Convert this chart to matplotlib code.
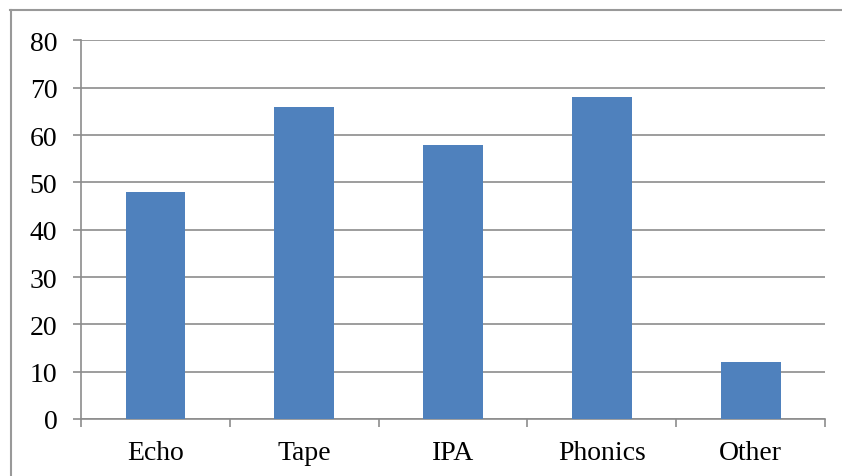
import matplotlib.pyplot as plt
import numpy as np
from matplotlib.lines import Line2D

categories = ['Echo', 'Tape', 'IPA', 'Phonics', 'Other']
values = [48, 66, 58, 68, 12]
yticks = [0, 10, 20, 30, 40, 50, 60, 70, 80]

plt.rcParams['font.family'] = ['Liberation Serif', 'DejaVu Serif']
grid_col = '#8c8c8c'

fig = plt.figure(figsize=(8.42, 4.77), dpi=100)
ax = fig.add_axes([0.0962, 0.1195, 0.8838, 0.7935])

x = np.arange(len(categories))
ax.bar(x, values, width=0.4, color='#4F81BD', zorder=3)

ax.set_xlim(-0.5, len(categories) - 0.5)
ax.set_ylim(0, 80)
ax.set_yticks(yticks)
ax.yaxis.grid(True, color=grid_col, linewidth=1.2, zorder=0)

# category labels between boundary ticks
ax.set_xticks(np.arange(-0.5, len(categories), 1.0))
ax.set_xticklabels([])
ax.set_xticks(x, minor=True)
ax.set_xticklabels(categories, minor=True)
ax.tick_params(axis='x', which='major', length=6, color=grid_col, width=1.2)
ax.tick_params(axis='x', which='minor', length=0, labelsize=20, pad=15)
ax.tick_params(axis='y', length=6, color=grid_col, width=1.2, labelsize=20, pad=11)

for s in ['top', 'right']:
    ax.spines[s].set_visible(False)
for s in ['left', 'bottom']:
    ax.spines[s].set_color(grid_col)
    ax.spines[s].set_linewidth(1.2)

# chart area border (top and left visible)
fig.add_artist(Line2D([0.012, 1.0], [0.976, 0.976], color='#999999', linewidth=1.5))
fig.add_artist(Line2D([0.013, 0.013], [0.0, 0.976], color='#999999', linewidth=1.5))

fig.savefig('out.png', dpi=100)
